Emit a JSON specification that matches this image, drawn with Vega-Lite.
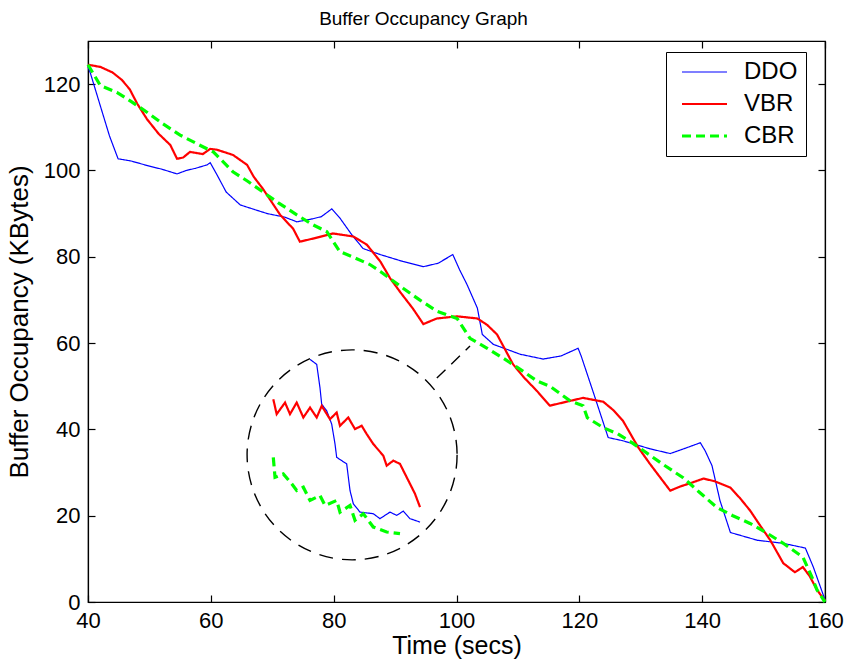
{
  "$schema": "https://vega.github.io/schema/vega-lite/v6.json",
  "width": 737,
  "height": 561,
  "autosize": {"type": "none"},
  "padding": {"left": 88, "top": 41, "right": 22, "bottom": 64},
  "background": "white",
  "title": {"text": "Buffer Occupancy Graph", "fontSize": 19, "fontWeight": "normal", "font": "Liberation Sans", "color": "black", "offset": 11, "dx": -33},
  "config": {
    "view": {"stroke": "black", "strokeWidth": 1.2},
    "font": "Liberation Sans",
    "axis": {"grid": false, "domainColor": "black", "domainWidth": 1.2, "tickColor": "black", "tickWidth": 1.2, "labelColor": "black", "titleColor": "black", "labelFont": "Liberation Sans", "titleFont": "Liberation Sans", "labelFontSize": 22, "titleFontSize": 25, "titleFontWeight": "normal", "tickSize": -7, "labelPadding": 15, "labelFlush": false}
  },
  "datasets": {
    "main": [
      {"t":40,"kb":124,"series":"DDO"},{"t":40.4,"kb":122.5,"series":"DDO"},{"t":42,"kb":115,"series":"DDO"},{"t":43.5,"kb":108,"series":"DDO"},{"t":44.9,"kb":102.7,"series":"DDO"},{"t":47,"kb":102.2,"series":"DDO"},{"t":50,"kb":101,"series":"DDO"},{"t":52,"kb":100.3,"series":"DDO"},{"t":54.5,"kb":99.2,"series":"DDO"},{"t":56,"kb":100,"series":"DDO"},{"t":57.5,"kb":100.5,"series":"DDO"},{"t":59.4,"kb":101.3,"series":"DDO"},{"t":59.9,"kb":101.8,"series":"DDO"},{"t":61,"kb":99,"series":"DDO"},{"t":62.5,"kb":95,"series":"DDO"},{"t":64.8,"kb":92,"series":"DDO"},{"t":67,"kb":91,"series":"DDO"},{"t":69.2,"kb":90,"series":"DDO"},{"t":72,"kb":89.2,"series":"DDO"},{"t":74,"kb":88.1,"series":"DDO"},{"t":76.6,"kb":88.8,"series":"DDO"},{"t":78,"kb":89.3,"series":"DDO"},{"t":79.7,"kb":91.1,"series":"DDO"},{"t":81,"kb":89,"series":"DDO"},{"t":83,"kb":85,"series":"DDO"},{"t":84.8,"kb":81.9,"series":"DDO"},{"t":87.6,"kb":80.5,"series":"DDO"},{"t":91.3,"kb":78.9,"series":"DDO"},{"t":94.6,"kb":77.7,"series":"DDO"},{"t":97,"kb":78.5,"series":"DDO"},{"t":99.4,"kb":80.5,"series":"DDO"},{"t":100.5,"kb":77,"series":"DDO"},{"t":101.7,"kb":73.6,"series":"DDO"},{"t":103.4,"kb":68.1,"series":"DDO"},{"t":104.2,"kb":62,"series":"DDO"},{"t":106,"kb":59.7,"series":"DDO"},{"t":110.4,"kb":57.4,"series":"DDO"},{"t":114.1,"kb":56.3,"series":"DDO"},{"t":117,"kb":57,"series":"DDO"},{"t":119.8,"kb":58.8,"series":"DDO"},{"t":120.3,"kb":57,"series":"DDO"},{"t":122.2,"kb":48.9,"series":"DDO"},{"t":124.7,"kb":38.1,"series":"DDO"},{"t":127,"kb":37.4,"series":"DDO"},{"t":131.5,"kb":35.5,"series":"DDO"},{"t":134.8,"kb":34.4,"series":"DDO"},{"t":137,"kb":35.5,"series":"DDO"},{"t":139.7,"kb":36.9,"series":"DDO"},{"t":140.5,"kb":35,"series":"DDO"},{"t":141.6,"kb":31.6,"series":"DDO"},{"t":142.9,"kb":23.5,"series":"DDO"},{"t":144.6,"kb":16.1,"series":"DDO"},{"t":149,"kb":14.3,"series":"DDO"},{"t":153.2,"kb":13.6,"series":"DDO"},{"t":156.8,"kb":12.5,"series":"DDO"},{"t":158.1,"kb":8.1,"series":"DDO"},{"t":160,"kb":0.5,"series":"DDO"},
      {"t":40,"kb":124.5,"series":"VBR"},{"t":42,"kb":124,"series":"VBR"},{"t":44,"kb":122.7,"series":"VBR"},{"t":45.5,"kb":121,"series":"VBR"},{"t":46.8,"kb":118.8,"series":"VBR"},{"t":48,"kb":115.5,"series":"VBR"},{"t":49.6,"kb":111.9,"series":"VBR"},{"t":51.5,"kb":108.5,"series":"VBR"},{"t":53.4,"kb":105.9,"series":"VBR"},{"t":54.5,"kb":102.7,"series":"VBR"},{"t":55.5,"kb":103,"series":"VBR"},{"t":56.6,"kb":104.3,"series":"VBR"},{"t":58.7,"kb":103.8,"series":"VBR"},{"t":59.9,"kb":105,"series":"VBR"},{"t":61,"kb":104.8,"series":"VBR"},{"t":63.6,"kb":103.6,"series":"VBR"},{"t":65.9,"kb":101.3,"series":"VBR"},{"t":67,"kb":98.5,"series":"VBR"},{"t":68.5,"kb":95.7,"series":"VBR"},{"t":71.3,"kb":89.7,"series":"VBR"},{"t":73.4,"kb":86.5,"series":"VBR"},{"t":74.5,"kb":83.5,"series":"VBR"},{"t":76.6,"kb":84.2,"series":"VBR"},{"t":79.9,"kb":85.4,"series":"VBR"},{"t":83.2,"kb":84.7,"series":"VBR"},{"t":85.4,"kb":82.8,"series":"VBR"},{"t":87.6,"kb":78.9,"series":"VBR"},{"t":89.2,"kb":75,"series":"VBR"},{"t":91,"kb":71.5,"series":"VBR"},{"t":92.9,"kb":68,"series":"VBR"},{"t":94.6,"kb":64.4,"series":"VBR"},{"t":96.8,"kb":65.7,"series":"VBR"},{"t":100.1,"kb":66.2,"series":"VBR"},{"t":103.4,"kb":65.7,"series":"VBR"},{"t":105,"kb":64.2,"series":"VBR"},{"t":106.6,"kb":62,"series":"VBR"},{"t":109.2,"kb":55.1,"series":"VBR"},{"t":111,"kb":52,"series":"VBR"},{"t":113.1,"kb":48.9,"series":"VBR"},{"t":115.2,"kb":45.5,"series":"VBR"},{"t":118.5,"kb":46.6,"series":"VBR"},{"t":120.6,"kb":47.3,"series":"VBR"},{"t":123.9,"kb":46.4,"series":"VBR"},{"t":125.5,"kb":44.5,"series":"VBR"},{"t":127.1,"kb":42,"series":"VBR"},{"t":129.6,"kb":35.8,"series":"VBR"},{"t":131.5,"kb":32,"series":"VBR"},{"t":133.2,"kb":28.8,"series":"VBR"},{"t":134.8,"kb":25.8,"series":"VBR"},{"t":136.5,"kb":26.8,"series":"VBR"},{"t":138,"kb":27.5,"series":"VBR"},{"t":140.2,"kb":28.6,"series":"VBR"},{"t":142,"kb":28,"series":"VBR"},{"t":144.6,"kb":26.5,"series":"VBR"},{"t":146.2,"kb":24,"series":"VBR"},{"t":147.8,"kb":21.2,"series":"VBR"},{"t":149.5,"kb":17.6,"series":"VBR"},{"t":151.1,"kb":14.3,"series":"VBR"},{"t":153.2,"kb":9,"series":"VBR"},{"t":155.1,"kb":6.9,"series":"VBR"},{"t":156.4,"kb":8.1,"series":"VBR"},{"t":157.5,"kb":6,"series":"VBR"},{"t":158.7,"kb":2.8,"series":"VBR"},{"t":160,"kb":0.3,"series":"VBR"},
      {"t":40,"kb":124.5,"series":"CBR"},{"t":42,"kb":119.7,"series":"CBR"},{"t":44.7,"kb":118.1,"series":"CBR"},{"t":47,"kb":116,"series":"CBR"},{"t":49.6,"kb":113.5,"series":"CBR"},{"t":52,"kb":111,"series":"CBR"},{"t":55,"kb":108.2,"series":"CBR"},{"t":58,"kb":106,"series":"CBR"},{"t":60.4,"kb":104.3,"series":"CBR"},{"t":63.6,"kb":99.7,"series":"CBR"},{"t":66,"kb":97.5,"series":"CBR"},{"t":68.5,"kb":95,"series":"CBR"},{"t":71,"kb":92.5,"series":"CBR"},{"t":74,"kb":89.7,"series":"CBR"},{"t":76.5,"kb":87.5,"series":"CBR"},{"t":78.9,"kb":85.8,"series":"CBR"},{"t":81,"kb":81.2,"series":"CBR"},{"t":83.5,"kb":79.7,"series":"CBR"},{"t":85.9,"kb":78.2,"series":"CBR"},{"t":87.6,"kb":76.6,"series":"CBR"},{"t":91.3,"kb":72.7,"series":"CBR"},{"t":94,"kb":70,"series":"CBR"},{"t":96.8,"kb":67.4,"series":"CBR"},{"t":100.1,"kb":65.7,"series":"CBR"},{"t":102.2,"kb":61.1,"series":"CBR"},{"t":105,"kb":58.8,"series":"CBR"},{"t":107.6,"kb":56.5,"series":"CBR"},{"t":110.5,"kb":53.8,"series":"CBR"},{"t":113.1,"kb":51.2,"series":"CBR"},{"t":115.2,"kb":50,"series":"CBR"},{"t":118.5,"kb":46.6,"series":"CBR"},{"t":120.6,"kb":45.5,"series":"CBR"},{"t":121.3,"kb":42.7,"series":"CBR"},{"t":123.9,"kb":40.4,"series":"CBR"},{"t":126.2,"kb":39,"series":"CBR"},{"t":128.5,"kb":37,"series":"CBR"},{"t":130.4,"kb":35.1,"series":"CBR"},{"t":133.5,"kb":32,"series":"CBR"},{"t":136.9,"kb":28.8,"series":"CBR"},{"t":139.5,"kb":25.5,"series":"CBR"},{"t":142.4,"kb":21.9,"series":"CBR"},{"t":145,"kb":20,"series":"CBR"},{"t":147.8,"kb":18.2,"series":"CBR"},{"t":150.5,"kb":16,"series":"CBR"},{"t":153.2,"kb":13.6,"series":"CBR"},{"t":156.4,"kb":10.4,"series":"CBR"},{"t":157.8,"kb":6,"series":"CBR"},{"t":158.7,"kb":2.8,"series":"CBR"},{"t":160,"kb":0,"series":"CBR"}
    ],
    "inset": [
      {"t":76.15,"kb":56.22,"series":"DDO"},{"t":77.24,"kb":55.06,"series":"DDO"},{"t":77.77,"kb":49.67,"series":"DDO"},{"t":78.05,"kb":45.84,"series":"DDO"},{"t":78.87,"kb":44.29,"series":"DDO"},{"t":79.68,"kb":41.22,"series":"DDO"},{"t":80.22,"kb":36.61,"series":"DDO"},{"t":80.49,"kb":33.52,"series":"DDO"},{"t":82.12,"kb":32.0,"series":"DDO"},{"t":82.66,"kb":25.84,"series":"DDO"},{"t":83.2,"kb":22.77,"series":"DDO"},{"t":84.29,"kb":20.83,"series":"DDO"},{"t":86.45,"kb":20.46,"series":"DDO"},{"t":87.54,"kb":19.31,"series":"DDO"},{"t":89.17,"kb":20.83,"series":"DDO"},{"t":90.26,"kb":20.07,"series":"DDO"},{"t":91.34,"kb":21.06,"series":"DDO"},{"t":92.43,"kb":19.31,"series":"DDO"},{"t":94.06,"kb":18.52,"series":"DDO"},
      {"t":70.17,"kb":46.99,"series":"VBR"},{"t":70.72,"kb":43.53,"series":"VBR"},{"t":72.08,"kb":46.21,"series":"VBR"},{"t":72.89,"kb":43.53,"series":"VBR"},{"t":73.98,"kb":46.21,"series":"VBR"},{"t":75.06,"kb":42.75,"series":"VBR"},{"t":76.15,"kb":45.05,"series":"VBR"},{"t":77.24,"kb":42.75,"series":"VBR"},{"t":78.05,"kb":45.44,"series":"VBR"},{"t":79.4,"kb":42.37,"series":"VBR"},{"t":80.49,"kb":43.9,"series":"VBR"},{"t":81.03,"kb":40.83,"series":"VBR"},{"t":82.38,"kb":42.75,"series":"VBR"},{"t":83.47,"kb":40.07,"series":"VBR"},{"t":84.56,"kb":40.83,"series":"VBR"},{"t":85.38,"kb":38.92,"series":"VBR"},{"t":86.45,"kb":36.61,"series":"VBR"},{"t":88.08,"kb":33.91,"series":"VBR"},{"t":88.63,"kb":31.6,"series":"VBR"},{"t":89.71,"kb":32.76,"series":"VBR"},{"t":90.8,"kb":32.0,"series":"VBR"},{"t":91.89,"kb":28.9,"series":"VBR"},{"t":92.43,"kb":27.38,"series":"VBR"},{"t":93.24,"kb":25.08,"series":"VBR"},{"t":94.06,"kb":21.98,"series":"VBR"},
      {"t":70.17,"kb":33.52,"series":"CBR"},{"t":70.45,"kb":28.9,"series":"CBR"},{"t":71.8,"kb":29.69,"series":"CBR"},{"t":73.17,"kb":27.38,"series":"CBR"},{"t":73.98,"kb":25.84,"series":"CBR"},{"t":75.06,"kb":26.6,"series":"CBR"},{"t":76.15,"kb":23.53,"series":"CBR"},{"t":77.77,"kb":24.68,"series":"CBR"},{"t":78.59,"kb":22.38,"series":"CBR"},{"t":80.49,"kb":23.53,"series":"CBR"},{"t":81.03,"kb":20.83,"series":"CBR"},{"t":82.66,"kb":22.38,"series":"CBR"},{"t":83.47,"kb":18.92,"series":"CBR"},{"t":84.83,"kb":20.46,"series":"CBR"},{"t":86.45,"kb":17.37,"series":"CBR"},{"t":88.63,"kb":16.22,"series":"CBR"},{"t":90.8,"kb":15.85,"series":"CBR"}
    ]
  },
  "resolve": {"axis": {"x": "independent", "y": "independent"}},
  "layer": [
    {
      "data": {"name": "main"},
      "mark": {"type": "line", "strokeCap": "butt"},
      "encoding": {
        "x": {"field": "t", "type": "quantitative", "scale": {"domain": [40, 160], "nice": false, "zero": false}, "axis": {"orient": "bottom", "values": [40, 60, 80, 100, 120, 140, 160], "title": "Time (secs)", "titlePadding": 2}},
        "y": {"field": "kb", "type": "quantitative", "scale": {"domain": [0, 130], "nice": false}, "axis": {"orient": "left", "values": [0, 20, 40, 60, 80, 100, 120], "title": "Buffer Occupancy (KBytes)", "titlePadding": 11, "titleFontSize": 26}},
        "color": {"field": "series", "type": "nominal", "scale": {"domain": ["DDO", "VBR", "CBR"], "range": ["#0000FF", "#FF0000", "#00FF00"]},
          "legend": {"title": null, "orient": "none", "legendX": 578, "legendY": 11, "symbolType": "stroke", "symbolSize": 2025, "symbolOffset": 6, "clipHeight": 24, "labelFontSize": 24, "labelFont": "Liberation Sans", "labelColor": "black", "labelOffset": 15, "labelExpr": "datum.label + '  '", "padding": 8, "rowPadding": 8, "strokeColor": "black", "fillColor": "white"}},
        "strokeDash": {"field": "series", "type": "nominal", "scale": {"domain": ["DDO", "VBR", "CBR"], "range": [[1, 0], [1, 0], [9, 5]]}},
        "strokeWidth": {"field": "series", "type": "nominal", "scale": {"domain": ["DDO", "VBR", "CBR"], "range": [1.2, 3.2, 3.2]}}
      }
    },
    {
      "data": {"name": "inset"},
      "mark": {"type": "line", "strokeCap": "butt"},
      "encoding": {
        "x": {"field": "t", "type": "quantitative", "scale": {"domain": [40, 160], "nice": false, "zero": false}, "axis": null},
        "y": {"field": "kb", "type": "quantitative", "scale": {"domain": [0, 130], "nice": false}, "axis": null},
        "color": {"field": "series", "type": "nominal", "scale": {"domain": ["DDO", "VBR", "CBR"], "range": ["#0000FF", "#FF0000", "#00FF00"]}},
        "strokeDash": {"field": "series", "type": "nominal", "scale": {"domain": ["DDO", "VBR", "CBR"], "range": [[1, 0], [1, 0], [9, 5]]}},
        "strokeWidth": {"field": "series", "type": "nominal", "scale": {"domain": ["DDO", "VBR", "CBR"], "range": [1.2, 3.2, 3.2]}}
      }
    },
    {
      "data": {"values": [{"t": 96.8, "kb": 51.9, "t2": 102.2, "kb2": 59.3}]},
      "mark": {"type": "rule", "color": "black", "strokeWidth": 1.4, "strokeDash": [12, 8]},
      "encoding": {
        "x": {"field": "t", "type": "quantitative", "axis": null},
        "y": {"field": "kb", "type": "quantitative", "axis": null},
        "x2": {"field": "t2"},
        "y2": {"field": "kb2"}
      }
    },
    {
      "data": {"values": [{"t": 83, "kb": 34.1}]},
      "mark": {"type": "point", "shape": "circle", "size": 44100, "filled": false, "stroke": "black", "strokeWidth": 1.4, "strokeDash": [14, 9], "opacity": 1},
      "encoding": {
        "x": {"field": "t", "type": "quantitative", "axis": {"orient": "top", "values": [40, 60, 80, 100, 120, 140, 160], "labels": false, "title": null}},
        "y": {"field": "kb", "type": "quantitative", "axis": {"orient": "right", "values": [0, 20, 40, 60, 80, 100, 120], "labels": false, "title": null}}
      }
    }
  ]
}
